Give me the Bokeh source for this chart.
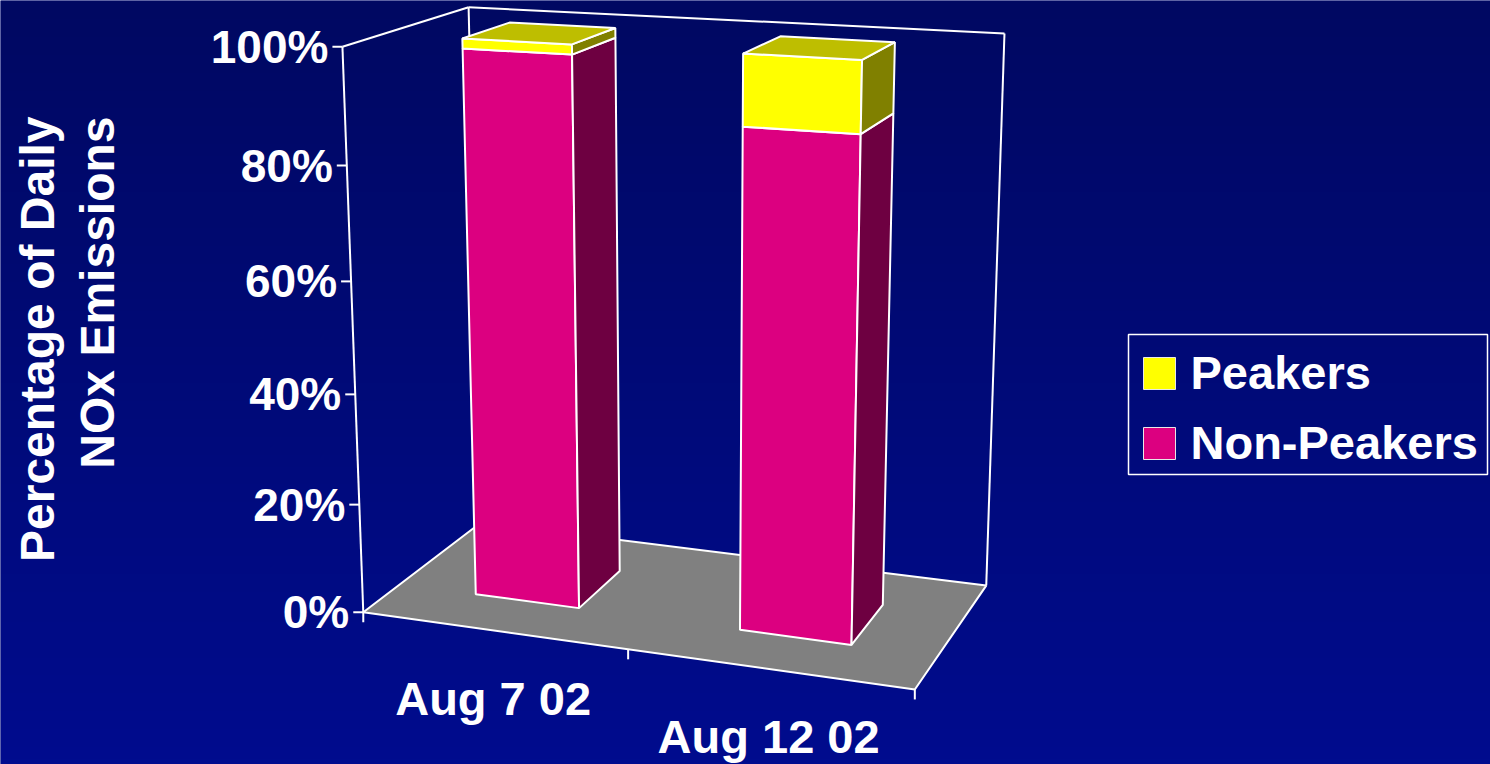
import numpy as np
from bokeh.plotting import figure
from bokeh.models import ColumnDataSource, Range1d
from bokeh.core.properties import value
from bokeh.embed import file_html
from bokeh.resources import INLINE

# ---------------- data ----------------
categories = ["Aug 7 02", "Aug 12 02"]
series_names = ["Non-Peakers", "Peakers"]          # stacked bottom -> top
non_peakers = [98.3, 88.0]                          # % of daily NOx emissions
peakers = [1.7, 12.0]
y_ticks = [0, 20, 40, 60, 80, 100]
y_tick_labels = ["0%", "20%", "40%", "60%", "80%", "100%"]
axis_title_lines = ["Percentage of Daily", "NOx Emissions"]

# ---------------- styles / layout ----------------
W, H = 1490, 764
FONT = value("Liberation Sans")
front_colors = ["#DC0080", "#FFFF00"]
side_colors = ["#6E0041", "#808000"]
top_colors = ["#A00060", "#BEBE00"]
floor_color = "#808080"
bg_top = np.array([0, 8, 98])
bg_bottom = np.array([0, 12, 142])

# 3D box: x = category axis (0..1), y = value axis (0..1 -> 0..100%), z = depth (0 front .. 1 back)
box_corners_3d = [(0, 0, 0), (0, 1, 0), (0, 0, 1), (0, 1, 1), (1, 1, 1), (1, 0, 1), (1, 0, 0)]
box_corners_px = [(363, 612), (342, 46), (480, 522), (468, 7), (1004, 33), (986, 585), (914, 689)]
cat_pos = [0.25, 0.75]
bar_width = 0.2
bar_z = (0.295, 0.69)


def fit_camera(p3, p2):
    p2 = np.asarray(p2, float)
    p3 = np.asarray(p3, float)
    m = p2.mean(0)
    s = np.sqrt(2) / np.mean(np.linalg.norm(p2 - m, axis=1))
    T = np.array([[s, 0, -s * m[0]], [0, s, -s * m[1]], [0, 0, 1]])
    p2n = (p2 - m) * s
    A = []
    for (X, Y, Z), (u, v) in zip(p3, p2n):
        A.append([X, Y, Z, 1, 0, 0, 0, 0, -u * X, -u * Y, -u * Z, -u])
        A.append([0, 0, 0, 0, X, Y, Z, 1, -v * X, -v * Y, -v * Z, -v])
    _, _, Vt = np.linalg.svd(np.array(A))
    return np.linalg.inv(T) @ Vt[-1].reshape(3, 4)


CAM = fit_camera(box_corners_3d, box_corners_px)


def proj(x, y, z):
    """3D chart coords -> plot coords (x right, y up)."""
    h = CAM @ np.array([x, y, z, 1.0])
    u, v = h[0] / h[2], h[1] / h[2]
    return float(u), float(H - v)


def poly(pts):
    xy = [proj(*p) for p in pts]
    return [a for a, _ in xy], [b for _, b in xy]


p = figure(width=W, height=H, x_range=Range1d(0, W), y_range=Range1d(0, H),
           output_backend="svg", toolbar_location=None, min_border=0,
           x_axis_type=None, y_axis_type=None)
p.grid.visible = False
p.outline_line_color = None
p.background_fill_color = "#000A78"
p.border_fill_color = "#000A78"

# background gradient (style only)
n = 128
frac = np.linspace(0.0, 1.0, n)[:, None]
rgb = bg_bottom + (bg_top - bg_bottom) * frac
img = np.empty((n, 1), dtype=np.uint32)
view = img.view(dtype=np.uint8).reshape((n, 1, 4))
view[:, :, 0] = rgb[:, 0:1]
view[:, :, 1] = rgb[:, 1:2]
view[:, :, 2] = rgb[:, 2:3]
view[:, :, 3] = 255
p.image_rgba(image=[img], x=0, y=0, dw=W, dh=H)

# floor
fx, fy = poly([(0, 0, 0), (1, 0, 0), (1, 0, 1), (0, 0, 1)])
p.patch(fx, fy, fill_color=floor_color, line_color="white", line_width=2)

# walls (outlines only)
wall_edges = [((0, 0, 0), (0, 1, 0)), ((0, 1, 0), (0, 1, 1)), ((0, 1, 1), (0, 0, 1)),
              ((0, 1, 1), (1, 1, 1)), ((1, 1, 1), (1, 0, 1))]
wx, wy = [], []
for a, b in wall_edges:
    xs, ys = poly([a, b])
    wx.append(xs)
    wy.append(ys)
p.multi_line(wx, wy, line_color="white", line_width=2)

# value-axis ticks and labels
tx, ty, lx, ly = [], [], [], []
for t in y_ticks:
    u, v = proj(0, t / 100.0, 0)
    tx.append([u, u - 10])
    ty.append([v, v])
    lx.append(u - 14)
    ly.append(v)
# category-axis ticks
for c in [0.0, 0.5, 1.0]:
    u, v = proj(c, 0, 0)
    tx.append([u, u])
    ty.append([v, v - 10])
p.multi_line(tx, ty, line_color="white", line_width=2)
p.text(x=lx, y=ly, text=y_tick_labels, text_align="right", text_baseline="middle",
       text_color="white", text_font=FONT, text_font_style="bold", text_font_size="46px")

# category labels
cx, cy = [], []
for c in cat_pos:
    u, v = proj(c, 0, 0)
    cx.append(u)
    cy.append(v - 68)
p.text(x=cx, y=cy, text=categories, text_align="center", text_baseline="middle",
       text_color="white", text_font=FONT, text_font_style="bold", text_font_size="47px")

# bars (stacked 3D boxes)
series_values = [non_peakers, peakers]
base = [0.0] * len(categories)
for si, vals in enumerate(series_values):
    xs, ys, cols = [], [], []
    is_top = si == len(series_values) - 1
    for ci, c in enumerate(cat_pos):
        xa, xb = c - bar_width / 2, c + bar_width / 2
        za, zb = bar_z
        y0 = base[ci] / 100.0
        y1 = (base[ci] + vals[ci]) / 100.0
        faces = [
            ([(xa, y0, za), (xb, y0, za), (xb, y1, za), (xa, y1, za)], front_colors[si]),
            ([(xb, y0, za), (xb, y0, zb), (xb, y1, zb), (xb, y1, za)], side_colors[si]),
        ]
        if is_top:
            faces.append(([(xa, y1, za), (xb, y1, za), (xb, y1, zb), (xa, y1, zb)], top_colors[si]))
        for pts, col in faces:
            a, b = poly(pts)
            xs.append(a)
            ys.append(b)
            cols.append(col)
        base[ci] += vals[ci]
    src = ColumnDataSource(dict(xs=xs, ys=ys, color=cols))
    p.patches("xs", "ys", source=src, fill_color="color", line_color="white", line_width=2)

# axis title (rotated)
p.text(x=[37, 97], y=[H - 116, H - 116], text=axis_title_lines, angle=np.pi / 2,
       text_align="right", text_baseline="middle", text_color="white",
       text_font=FONT, text_font_style="bold", text_font_size="48px")

# legend (drawn manually, top entry = top of stack)
leg_names = series_names[::-1]
leg_colors = front_colors[::-1]
p.quad(left=[1128], right=[1487], top=[H - 334], bottom=[H - 474],
       fill_color=None, line_color="white", line_width=1.5)
sw_y = [H - 373, H - 443]
p.rect(x=[1159, 1159], y=sw_y, width=32, height=32, fill_color=leg_colors,
       line_color="#E8E8E8", line_width=1)
p.text(x=[1190, 1190], y=[H - 372, H - 442], text=leg_names, text_align="left",
       text_baseline="middle", text_color="white", text_font=FONT,
       text_font_style="bold", text_font_size="47px")

open("out.html", "w").write(file_html(p, INLINE))
